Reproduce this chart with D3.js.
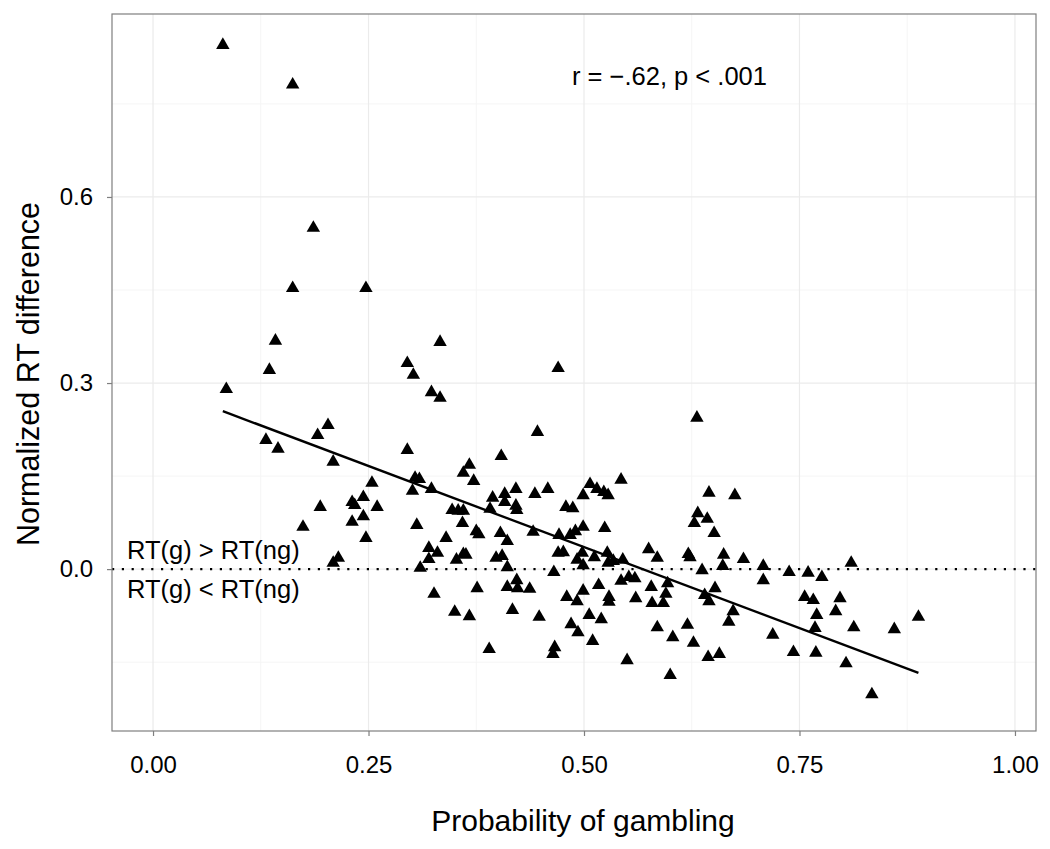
<!DOCTYPE html>
<html>
<head>
<meta charset="utf-8">
<script src="https://cdn.jsdelivr.net/npm/d3@7"></script>
<style>
  body { margin: 0; background: #fff; }
  svg { font-family: 'Liberation Sans', Arial, Helvetica, sans-serif; }
</style>
</head>
<body>
<div id="chart"></div>
<script>
// probability of gambling (one value per participant)
const gambleProb = [
  0.081, 0.162, 0.186, 0.162, 0.247, 0.142, 0.333, 0.135, 0.295, 0.302,
  0.470, 0.085, 0.323, 0.333, 0.131, 0.145, 0.191, 0.203, 0.209, 0.295,
  0.446, 0.631, 0.254, 0.244, 0.231, 0.234, 0.260, 0.194, 0.244, 0.231,
  0.174, 0.247, 0.304, 0.309, 0.301, 0.323, 0.306, 0.320, 0.330, 0.320,
  0.310, 0.215, 0.209, 0.326, 0.404, 0.367, 0.360, 0.372, 0.394, 0.408,
  0.421, 0.443, 0.458, 0.408, 0.391, 0.421, 0.422, 0.347, 0.354, 0.360,
  0.359, 0.375, 0.378, 0.479, 0.487, 0.499, 0.507, 0.515, 0.523, 0.528,
  0.543, 0.340, 0.403, 0.411, 0.441, 0.471, 0.484, 0.490, 0.499, 0.524,
  0.352, 0.360, 0.363, 0.398, 0.405, 0.411, 0.470, 0.476, 0.498, 0.492,
  0.512, 0.499, 0.527, 0.528, 0.534, 0.545, 0.465, 0.422, 0.423, 0.411,
  0.437, 0.376, 0.480, 0.492, 0.499, 0.517, 0.529, 0.529, 0.543, 0.350,
  0.367, 0.417, 0.448, 0.485, 0.493, 0.506, 0.520, 0.510, 0.390, 0.466,
  0.464, 0.575, 0.585, 0.552, 0.559, 0.578, 0.597, 0.560, 0.595, 0.579,
  0.592, 0.585, 0.603, 0.550, 0.600, 0.645, 0.675, 0.632, 0.628, 0.643,
  0.651, 0.621, 0.623, 0.662, 0.661, 0.685, 0.708, 0.738, 0.760, 0.637,
  0.708, 0.652, 0.640, 0.645, 0.673, 0.668, 0.756, 0.766, 0.770, 0.620,
  0.627, 0.719, 0.768, 0.743, 0.769, 0.644, 0.657, 0.810, 0.776, 0.797,
  0.792, 0.888, 0.813, 0.860, 0.804, 0.834
];

// normalized RT difference, same order
const rtDiff = [
  0.845, 0.781, 0.550, 0.453, 0.453, 0.368, 0.366, 0.321, 0.332, 0.313,
  0.324, 0.290, 0.285, 0.276, 0.208, 0.194, 0.216, 0.232, 0.173, 0.192,
  0.221, 0.244, 0.139, 0.116, 0.108, 0.103, 0.100, 0.100, 0.085, 0.076,
  0.068, 0.050, 0.147, 0.145, 0.126, 0.129, 0.071, 0.034, 0.026, 0.016,
  0.002, 0.018, 0.010, -0.040, 0.182, 0.168, 0.155, 0.142, 0.115, 0.121,
  0.129, 0.121, 0.129, 0.108, 0.097, 0.102, 0.095, 0.095, 0.094, 0.094,
  0.074, 0.061, 0.056, 0.100, 0.098, 0.119, 0.137, 0.129, 0.124, 0.119,
  0.144, 0.050, 0.058, 0.045, 0.060, 0.055, 0.055, 0.061, 0.068, 0.066,
  0.015, 0.024, 0.023, 0.018, 0.021, 0.003, 0.026, 0.027, 0.026, 0.015,
  0.019, 0.006, 0.026, 0.010, 0.013, 0.015, -0.005, -0.018, -0.031, -0.029,
  -0.032, -0.031, -0.045, -0.052, -0.035, -0.026, -0.045, -0.053, -0.019, -0.069,
  -0.076, -0.066, -0.077, -0.089, -0.102, -0.074, -0.081, -0.116, -0.129, -0.126,
  -0.137, 0.032, 0.018, -0.013, -0.015, -0.029, -0.023, -0.047, -0.040, -0.055,
  -0.055, -0.094, -0.110, -0.147, -0.171, 0.123, 0.119, 0.090, 0.074, 0.081,
  0.058, 0.024, 0.019, 0.023, 0.005, 0.016, 0.005, -0.005, -0.006, -0.002,
  -0.018, -0.031, -0.042, -0.052, -0.068, -0.085, -0.045, -0.050, -0.074, -0.090,
  -0.119, -0.106, -0.095, -0.134, -0.135, -0.142, -0.137, 0.010, -0.013, -0.047,
  -0.068, -0.077, -0.094, -0.097, -0.152, -0.202
];

const xTicks = [0, 0.25, 0.5, 0.75, 1];
const xTickLabels = ['0.00', '0.25', '0.50', '0.75', '1.00'];
const xMinor = [0.125, 0.375, 0.625, 0.875];
const yTicks = [0, 0.3, 0.6];
const yTickLabels = ['0.0', '0.3', '0.6'];
const yMinor = [-0.15, 0.15, 0.45, 0.75];

// linear fit
const fitIntercept = 0.297;
const fitSlope = -0.523;

const data = gambleProb.map((g, i) => ({ x: g, y: rtDiff[i] }));

const width = 1050;
const height = 849;
const panel = { left: 112, right: 1036, top: 14, bottom: 731 };

const xScale = d3.scaleLinear().domain([-0.0476, 1.0244]).range([panel.left, panel.right]);
const yScale = d3.scaleLinear().domain([-0.261, 0.895]).range([panel.bottom, panel.top]);

const svg = d3.select('#chart').append('svg').attr('width', width).attr('height', height);

// minor grid
svg.append('g').selectAll('line').data(xMinor).enter().append('line')
  .attr('x1', (d) => xScale(d)).attr('x2', (d) => xScale(d))
  .attr('y1', panel.top).attr('y2', panel.bottom)
  .attr('stroke', '#f5f5f5').attr('stroke-width', 1);
svg.append('g').selectAll('line').data(yMinor).enter().append('line')
  .attr('y1', (d) => yScale(d)).attr('y2', (d) => yScale(d))
  .attr('x1', panel.left).attr('x2', panel.right)
  .attr('stroke', '#f5f5f5').attr('stroke-width', 1);

// major grid
svg.append('g').selectAll('line').data(xTicks).enter().append('line')
  .attr('x1', (d) => xScale(d)).attr('x2', (d) => xScale(d))
  .attr('y1', panel.top).attr('y2', panel.bottom)
  .attr('stroke', '#ebebeb').attr('stroke-width', 1.2);
svg.append('g').selectAll('line').data(yTicks).enter().append('line')
  .attr('y1', (d) => yScale(d)).attr('y2', (d) => yScale(d))
  .attr('x1', panel.left).attr('x2', panel.right)
  .attr('stroke', '#ebebeb').attr('stroke-width', 1.2);

// dotted zero line
svg.append('line')
  .attr('x1', panel.left).attr('x2', panel.right)
  .attr('y1', yScale(0)).attr('y2', yScale(0))
  .attr('stroke', '#000').attr('stroke-width', 2.2)
  .attr('stroke-dasharray', '2.2 7.6');

// points
svg.append('g').selectAll('path').data(data).enter().append('path')
  .attr('d', d3.symbol().type(d3.symbolTriangle).size(78))
  .attr('transform', (d) => 'translate(' + xScale(d.x) + ',' + yScale(d.y) + ')')
  .attr('fill', '#000');

// fit line over the range of the data
const xExt = d3.extent(gambleProb);
svg.append('line')
  .attr('x1', xScale(xExt[0])).attr('y1', yScale(fitIntercept + fitSlope * xExt[0]))
  .attr('x2', xScale(xExt[1])).attr('y2', yScale(fitIntercept + fitSlope * xExt[1]))
  .attr('stroke', '#000').attr('stroke-width', 2.4);

// panel border
svg.append('rect')
  .attr('x', panel.left).attr('y', panel.top)
  .attr('width', panel.right - panel.left).attr('height', panel.bottom - panel.top)
  .attr('fill', 'none').attr('stroke', '#7f7f7f').attr('stroke-width', 1.2);

// x axis
const xAxis = d3.axisBottom(xScale).tickValues(xTicks)
  .tickFormat((d, i) => xTickLabels[i]).tickSizeInner(5).tickSizeOuter(0).tickPadding(20);
const gx = svg.append('g').attr('transform', 'translate(0,' + panel.bottom + ')').call(xAxis);
gx.select('.domain').remove();
gx.selectAll('line').attr('stroke', '#7f7f7f').attr('stroke-width', 1.2);
gx.selectAll('text').attr('font-size', 24).attr('fill', '#000').attr('font-family', null);

// y axis
const yAxis = d3.axisLeft(yScale).tickValues(yTicks)
  .tickFormat((d, i) => yTickLabels[i]).tickSizeInner(5).tickSizeOuter(0).tickPadding(14);
const gy = svg.append('g').attr('transform', 'translate(' + panel.left + ',0)').call(yAxis);
gy.select('.domain').remove();
gy.selectAll('line').attr('stroke', '#7f7f7f').attr('stroke-width', 1.2);
gy.selectAll('text').attr('font-size', 24).attr('fill', '#000').attr('font-family', null);

// axis titles
svg.append('text')
  .text('Probability of gambling')
  .attr('x', 583).attr('y', 831)
  .attr('text-anchor', 'middle').attr('font-size', 30);

svg.append('text')
  .text('Normalized RT difference')
  .attr('transform', 'translate(39,' + 374 + ') rotate(-90)')
  .attr('text-anchor', 'middle').attr('font-size', 30.5);

// annotations
svg.append('text')
  .text('r = \u2212.62, p < .001')
  .attr('x', 572).attr('y', 85).attr('font-size', 25.5);

svg.append('text')
  .text('RT(g) > RT(ng)')
  .attr('x', 127).attr('y', 559).attr('font-size', 25.5);
svg.append('text')
  .text('RT(g) < RT(ng)')
  .attr('x', 127).attr('y', 598).attr('font-size', 25.5);
</script>
</body>
</html>
